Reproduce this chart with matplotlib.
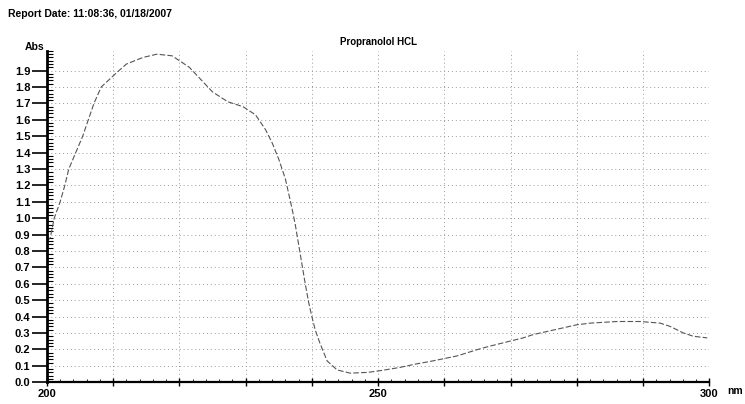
import numpy as np
import matplotlib
matplotlib.use("Agg")
import matplotlib.pyplot as plt
from matplotlib.ticker import MultipleLocator, FixedLocator

plt.rcParams["font.family"] = ["Liberation Sans", "DejaVu Sans"]

# spectrum (nm, Abs)
wavelength = [200.0, 200.5, 201.1, 202.0, 202.7, 203.3, 205.4, 207.1, 208.2, 210.6, 212.0,
              214.5, 216.6, 218.9, 221.5, 223.6, 225.0, 227.3, 229.6, 231.5, 233.0, 234.0,
              235.0, 236.0, 237.0, 237.5, 238.0, 238.5, 239.0, 239.5, 240.0,
              240.5, 241.2, 242.3, 243.8, 245.8, 248.5, 250.3, 253.3, 255.6, 258.3, 261.9,
              265.1, 266.9, 271.9, 273.4, 277.8, 280.0, 282.0, 286.1, 289.6, 292.6, 294.1,
              296.1, 297.6, 299.7]
absorb = [0.86, 0.88, 1.00, 1.10, 1.20, 1.30, 1.50, 1.70, 1.80, 1.89, 1.94,
          1.98, 2.00, 1.99, 1.92, 1.83, 1.77, 1.71, 1.68, 1.63, 1.54, 1.46,
          1.36, 1.24, 1.06, 0.96, 0.84, 0.72, 0.60, 0.49, 0.40,
          0.32, 0.24, 0.13, 0.075, 0.055, 0.06, 0.07, 0.09, 0.11, 0.13, 0.16,
          0.20, 0.22, 0.27, 0.29, 0.33, 0.35, 0.36, 0.37, 0.37, 0.36, 0.34,
          0.30, 0.28, 0.27]

y_ticks = [round(v * 0.1, 1) for v in range(20)]
x_labels = [200, 250, 300]

fig = plt.figure(figsize=(7.45, 4.04), dpi=100)
ax = fig.add_axes([0.063, 0.054, 0.889, 0.82])

ax.plot(wavelength, absorb, color="#555555", lw=0.8, linestyle=(0, (5, 2)))

ax.set_xlim(200, 300)
ax.set_ylim(0, 2.02)

ax.yaxis.set_major_locator(FixedLocator(y_ticks))
ax.set_yticklabels(["%.1f" % v for v in y_ticks], fontsize=8, fontweight="bold")
ax.yaxis.set_minor_locator(MultipleLocator(0.02))
ax.tick_params(axis="y", which="major", direction="out", length=11, width=1.2, pad=1)
ax.tick_params(axis="y", which="minor", direction="in", length=4, width=0.8)

ax.xaxis.set_major_locator(MultipleLocator(10))
ax.set_xticklabels([str(int(v)) if int(v) in x_labels else "" for v in ax.get_xticks()],
                   fontsize=8, fontweight="bold")
ax.xaxis.set_minor_locator(MultipleLocator(2))
ax.tick_params(axis="x", which="major", direction="inout", length=6, width=1.0, pad=2)
ax.tick_params(axis="x", which="minor", direction="in", length=2, width=0.6)

ax.grid(True, which="major", color="#999999", linestyle=(0, (1, 3)), lw=0.7)

for s in ["top", "right"]:
    ax.spines[s].set_visible(False)
ax.spines["left"].set_linewidth(2.0)
ax.spines["bottom"].set_linewidth(1.6)

ax.set_title("Propranolol HCL", fontsize=7, fontweight="bold", pad=4)
fig.text(0.011, 0.965, "Report Date: 11:08:36, 01/18/2007", fontsize=7.5,
         fontweight="bold", va="center")
fig.text(0.047, 0.883, "Abs", fontsize=7.5, fontweight="bold", ha="center", va="center")
fig.text(0.987, 0.032, "nm", fontsize=7.5, fontweight="bold", ha="center", va="center")

fig.savefig("out.png", dpi=100)
